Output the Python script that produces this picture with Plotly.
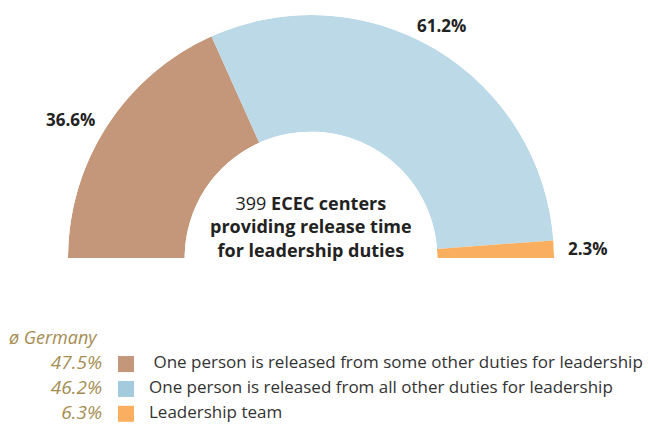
import math
import plotly.graph_objects as go

# ---- data ----
categories = [
    "\u00a0One person is released from some other duties for leadership",
    "One person is released from all other duties for leadership",
    "Leadership team",
]
shares = [36.6, 61.2, 2.3]          # ECEC centers providing release time (%)
germany = [47.5, 46.2, 6.3]         # ø Germany (%)
center_count = 399
center_title = ["ECEC centers", "providing release time", "for leadership duties"]
germany_label = "ø Germany"

# ---- styles ----
W, H = 648, 425
colors = ["#C4977A", "#BBD9E6", "#F9AF5F"]
legend_colors = ["#C4977A", "#A3CADD", "#F9AF5F"]
gold = "#A58D52"
dark = "#222222"
FONT = "Open Sans"
CX, CY, R = 311, 258, 243          # donut centre / outer radius (px)
LABEL_DIST = 1.05                  # label distance as fraction of R

total = sum(shares)
spans = [s / total * 180 for s in shares]
starts = [sum(spans[:i]) for i in range(len(spans))]
mids = [st + sp / 2 for st, sp in zip(starts, spans)]

fig = go.Figure()

# half donut
fig.add_trace(go.Barpolar(
    r=[1] * len(shares), theta=mids, width=spans,
    marker=dict(color=colors, line=dict(width=0)),
    showlegend=False, hoverinfo="skip",
))

# custom legend (cartesian)
rows = list(range(1, len(categories) + 1))
fig.add_trace(go.Scatter(
    x=[9], y=[0], mode="text", text=[germany_label], textposition="middle right",
    textfont=dict(family=FONT, size=18, color=gold, style="italic"),
    showlegend=False, hoverinfo="skip", cliponaxis=False,
))
fig.add_trace(go.Scatter(
    x=[102] * len(germany), y=rows, mode="text",
    text=[f"{v:.1f}%" for v in germany], textposition="middle left",
    textfont=dict(family=FONT, size=19, color=gold, style="italic"),
    showlegend=False, hoverinfo="skip", cliponaxis=False,
))
fig.add_trace(go.Scatter(
    x=[126] * len(categories), y=rows, mode="markers",
    marker=dict(symbol="square", size=16, color=legend_colors, line=dict(width=0)),
    showlegend=False, hoverinfo="skip", cliponaxis=False,
))
fig.add_trace(go.Scatter(
    x=[149] * len(categories), y=rows, mode="text",
    text=categories, textposition="middle right",
    textfont=dict(family=FONT, size=17, color="#333333"),
    showlegend=False, hoverinfo="skip", cliponaxis=False,
))

# value labels placed just outside the slice mid-angles
annotations = []
for v, m in zip(shares, mids):
    a = math.radians(m)
    c, s = math.cos(a), math.sin(a)
    px = CX - LABEL_DIST * R * c
    py_up = (H - CY) + LABEL_DIST * R * s
    xanchor = "right" if c > 0.6 else ("left" if c < -0.6 else "center")
    yanchor = "bottom" if s > 0.6 else "middle"
    annotations.append(dict(
        x=px / W, y=py_up / H, xref="paper", yref="paper",
        text=f"<b>{v:.1f}%</b>", showarrow=False,
        font=dict(family=FONT, size=17, color=dark),
        xanchor=xanchor, yanchor=yanchor,
    ))

center_text = (f"{center_count} <b>{center_title[0]}</b><br>"
               f"<b>{center_title[1]}</b><br><b>{center_title[2]}</b>")
annotations.append(dict(
    x=CX / W, y=(H - 226) / H, xref="paper", yref="paper",
    text=center_text, showarrow=False, align="center",
    font=dict(family=FONT, size=18, color=dark),
    xanchor="center", yanchor="middle",
))

fig.update_layout(
    width=W, height=H,
    margin=dict(l=0, r=0, t=0, b=0),
    paper_bgcolor="white", plot_bgcolor="white",
    font=dict(family=FONT, color=dark),
    polar=dict(
        domain=dict(x=[(CX - R) / W, (CX + R) / W], y=[(H - CY) / H, (H - CY + R) / H]),
        sector=[0, 180], hole=0.52, bgcolor="white", bargap=0,
        radialaxis=dict(range=[0, 1], visible=False, showgrid=False),
        angularaxis=dict(direction="clockwise", rotation=180, visible=False,
                         showgrid=False),
    ),
    xaxis=dict(range=[0, W], domain=[0, 1], visible=False, fixedrange=True),
    yaxis=dict(range=[3.45, -0.45], domain=[0, 97 / H], visible=False,
               fixedrange=True),
    annotations=annotations,
)

fig.write_html("out.html", config={"displayModeBar": False},
               post_script="document.body.style.margin='0';")
